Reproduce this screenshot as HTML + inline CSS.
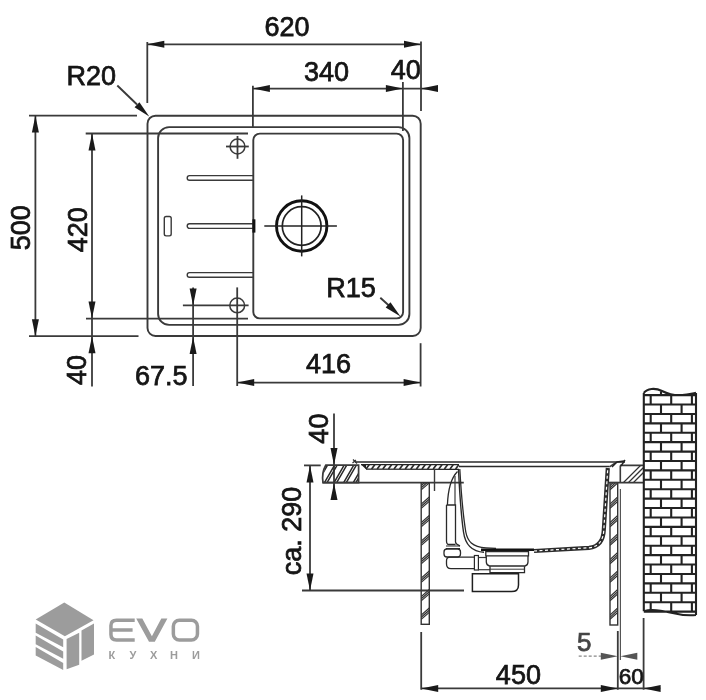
<!DOCTYPE html>
<html><head><meta charset="utf-8"><style>
html,body{margin:0;padding:0;background:#fff;}
body{width:706px;height:700px;overflow:hidden;}
svg{display:block;will-change:transform;}
text{font-family:"Liberation Sans",sans-serif;}
</style></head><body>
<svg width="706" height="700" viewBox="0 0 706 700">
<rect width="706" height="700" fill="#fff"/>
<rect x="147.5" y="115.7" width="273.2" height="220.3" rx="8" fill="none" stroke="#3a3a3a" stroke-width="1.9"/>
<rect x="158.1" y="127.1" width="251.3" height="197.8" rx="11" fill="none" stroke="#3a3a3a" stroke-width="1.9"/>
<rect x="253.3" y="133.6" width="149.8" height="184.8" rx="6.5" fill="none" stroke="#3a3a3a" stroke-width="1.9"/>
<line x1="147.3" y1="42" x2="147.3" y2="103" stroke="#3a3a3a" stroke-width="1.8" />
<line x1="421" y1="41.4" x2="421" y2="111" stroke="#3a3a3a" stroke-width="1.8" />
<line x1="147.3" y1="44.3" x2="421" y2="44.3" stroke="#3a3a3a" stroke-width="1.8" />
<polygon points="147.30,44.30 164.30,40.80 164.30,47.80" fill="#1a1a1a"/>
<polygon points="421.00,44.30 404.00,47.80 404.00,40.80" fill="#1a1a1a"/>
<text x="287" y="35.7" font-size="27" text-anchor="middle" fill="#151515" stroke="#151515" stroke-width="0.75" >620</text>
<line x1="252.9" y1="85.7" x2="252.9" y2="128" stroke="#3a3a3a" stroke-width="1.8" />
<line x1="402.9" y1="82" x2="402.9" y2="131" stroke="#3a3a3a" stroke-width="1.8" />
<line x1="252.9" y1="88.6" x2="437" y2="88.6" stroke="#3a3a3a" stroke-width="1.8" />
<polygon points="252.90,88.60 269.90,85.10 269.90,92.10" fill="#1a1a1a"/>
<polygon points="402.90,88.60 385.90,92.10 385.90,85.10" fill="#1a1a1a"/>
<polygon points="421.00,88.60 438.00,85.10 438.00,92.10" fill="#1a1a1a"/>
<text x="326.5" y="80.7" font-size="27" text-anchor="middle" fill="#151515" stroke="#151515" stroke-width="0.75" >340</text>
<text x="405.7" y="78.9" font-size="27" text-anchor="middle" fill="#151515" stroke="#151515" stroke-width="0.75" >40</text>
<line x1="117.3" y1="85.5" x2="137" y2="104.5" stroke="#3a3a3a" stroke-width="1.9" />
<polygon points="149.20,116.50 134.54,107.21 139.40,102.18" fill="#1a1a1a"/>
<text x="91.3" y="84.6" font-size="27" text-anchor="middle" fill="#151515" stroke="#151515" stroke-width="0.75" >R20</text>
<line x1="29" y1="115.6" x2="137" y2="115.6" stroke="#3a3a3a" stroke-width="1.8" />
<line x1="29" y1="336.2" x2="138.5" y2="336.2" stroke="#3a3a3a" stroke-width="1.8" />
<line x1="35.4" y1="115.6" x2="35.4" y2="336.2" stroke="#3a3a3a" stroke-width="1.8" />
<polygon points="35.40,115.60 38.90,132.60 31.90,132.60" fill="#1a1a1a"/>
<polygon points="35.40,336.20 31.90,319.20 38.90,319.20" fill="#1a1a1a"/>
<text x="30" y="227.7" font-size="27" text-anchor="middle" fill="#151515" stroke="#151515" stroke-width="0.75" transform="rotate(-90 30 227.7)" >500</text>
<line x1="85.7" y1="133.5" x2="248" y2="133.5" stroke="#3a3a3a" stroke-width="1.8" />
<line x1="86" y1="318.6" x2="248" y2="318.6" stroke="#3a3a3a" stroke-width="1.8" />
<line x1="92" y1="133.5" x2="92" y2="386.6" stroke="#3a3a3a" stroke-width="1.8" />
<polygon points="92.00,133.50 95.50,150.50 88.50,150.50" fill="#1a1a1a"/>
<polygon points="92.00,318.60 88.50,301.60 95.50,301.60" fill="#1a1a1a"/>
<polygon points="92.00,336.30 95.50,353.30 88.50,353.30" fill="#1a1a1a"/>
<text x="86.8" y="229.8" font-size="27" text-anchor="middle" fill="#151515" stroke="#151515" stroke-width="0.75" transform="rotate(-90 86.8 229.8)" >420</text>
<text x="86.3" y="369.9" font-size="27" text-anchor="middle" fill="#151515" stroke="#151515" stroke-width="0.75" transform="rotate(-90 86.3 369.9)" >40</text>
<circle cx="237.5" cy="146.5" r="7.4" fill="none" stroke="#3a3a3a" stroke-width="1.5"/>
<line x1="226" y1="146.5" x2="248.8" y2="146.5" stroke="#3a3a3a" stroke-width="1.8" />
<line x1="237.5" y1="136" x2="237.5" y2="158.8" stroke="#3a3a3a" stroke-width="1.8" />
<circle cx="237.2" cy="305.4" r="7.4" fill="none" stroke="#3a3a3a" stroke-width="1.5"/>
<line x1="182.9" y1="305.4" x2="248.6" y2="305.4" stroke="#3a3a3a" stroke-width="1.8" />
<line x1="193.1" y1="287.4" x2="193.1" y2="386" stroke="#3a3a3a" stroke-width="1.8" />
<polygon points="193.10,305.40 189.60,288.40 196.60,288.40" fill="#1a1a1a"/>
<polygon points="193.10,337.00 196.60,354.00 189.60,354.00" fill="#1a1a1a"/>
<text x="161.2" y="385.4" font-size="27" text-anchor="middle" fill="#151515" stroke="#151515" stroke-width="0.75" >67.5</text>
<line x1="237.2" y1="287.4" x2="237.2" y2="386" stroke="#3a3a3a" stroke-width="1.8" />
<line x1="420.6" y1="343.2" x2="420.6" y2="386.5" stroke="#3a3a3a" stroke-width="1.8" />
<line x1="237.2" y1="382.6" x2="420.6" y2="382.6" stroke="#3a3a3a" stroke-width="1.8" />
<polygon points="237.20,382.60 254.20,379.10 254.20,386.10" fill="#1a1a1a"/>
<polygon points="420.60,382.60 403.60,386.10 403.60,379.10" fill="#1a1a1a"/>
<text x="328.6" y="373.2" font-size="27" text-anchor="middle" fill="#151515" stroke="#151515" stroke-width="0.75" >416</text>
<line x1="380.3" y1="297.7" x2="390" y2="306.5" stroke="#3a3a3a" stroke-width="1.9" />
<polygon points="400.50,316.40 385.67,307.39 390.43,302.26" fill="#1a1a1a"/>
<text x="351" y="297.4" font-size="27" text-anchor="middle" fill="#151515" stroke="#151515" stroke-width="0.75" >R15</text>
<circle cx="301.7" cy="226" r="25.2" fill="none" stroke="#111" stroke-width="2.9"/>
<circle cx="301.7" cy="226" r="19.4" fill="none" stroke="#222" stroke-width="1.7"/>
<line x1="264.3" y1="226" x2="336.9" y2="226" stroke="#222" stroke-width="1.5" />
<line x1="301.7" y1="195.4" x2="301.7" y2="256.4" stroke="#222" stroke-width="1.5" />
<path d="M253.3 175.6 H189.5 A2.3 2.3 0 0 0 189.5 180.2 H253.3" fill="none" stroke="#3a3a3a" stroke-width="1.4"/>
<path d="M253.3 223.8 H189.5 A2.3 2.3 0 0 0 189.5 228.4 H253.3" fill="none" stroke="#3a3a3a" stroke-width="1.4"/>
<path d="M253.3 272.6 H189.5 A2.3 2.3 0 0 0 189.5 277.2 H253.3" fill="none" stroke="#3a3a3a" stroke-width="1.4"/>
<rect x="164.3" y="216.5" width="6.9" height="19.4" rx="1.8" fill="none" stroke="#3a3a3a" stroke-width="1.4"/>
<rect x="252.4" y="219.3" width="3" height="13.3" fill="#111"/>
<line x1="334" y1="413.6" x2="334" y2="498.6" stroke="#3a3a3a" stroke-width="1.8" />
<polygon points="334.00,465.00 330.50,448.00 337.50,448.00" fill="#1a1a1a"/>
<polygon points="334.00,483.00 337.50,500.00 330.50,500.00" fill="#1a1a1a"/>
<text x="327.9" y="428.6" font-size="27" text-anchor="middle" fill="#151515" stroke="#151515" stroke-width="0.75" transform="rotate(-90 327.9 428.6)" >40</text>
<line x1="304" y1="465.4" x2="320.7" y2="465.4" stroke="#3a3a3a" stroke-width="1.8" />
<line x1="302" y1="590.5" x2="464" y2="590.5" stroke="#3a3a3a" stroke-width="1.8" />
<line x1="310" y1="465.4" x2="310" y2="590.5" stroke="#3a3a3a" stroke-width="1.8" />
<polygon points="310.00,465.40 313.50,482.40 306.50,482.40" fill="#1a1a1a"/>
<polygon points="310.00,590.50 306.50,573.50 313.50,573.50" fill="#1a1a1a"/>
<text x="301.4" y="531" font-size="27" text-anchor="middle" fill="#151515" stroke="#151515" stroke-width="0.75" transform="rotate(-90 301.4 531)" >ca. 290</text>
<clipPath id="cl1"><polygon points="325,465 358.6,465 358.6,483 322.6,483"/></clipPath>
<path d="M314.3 483.6 L325.5 464.2 M316.9 483.6 L328.1 464.2 M323.9 483.6 L335.1 464.2 M326.5 483.6 L337.7 464.2 M333.5 483.6 L344.7 464.2 M336.1 483.6 L347.3 464.2 M343.1 483.6 L354.3 464.2 M345.7 483.6 L356.9 464.2 M352.7 483.6 L363.9 464.2 M355.3 483.6 L366.5 464.2 M362.3 483.6 L373.5 464.2 M364.9 483.6 L376.1 464.2" stroke="#2a2a2a" stroke-width="1.5" clip-path="url(#cl1)"/>
<path d="M325.8 465.2 L358.6 465.2 L358.6 482.6 L323 482.6 C322 476 323.5 469 325.8 465.2 Z" fill="none" stroke="#3a3a3a" stroke-width="1.7"/>
<line x1="322.6" y1="482.7" x2="463.8" y2="482.7" stroke="#3a3a3a" stroke-width="1.8" />
<line x1="355" y1="462" x2="625" y2="462" stroke="#2a2a2a" stroke-width="1.7" />
<path d="M353 459.5 L357 463.5 M352.5 463 L356 460" stroke="#333" stroke-width="1.2"/>
<path d="M361 464.6 L459 464.6 M366 469.2 L459 469.4" stroke="#222" stroke-width="1.3"/>
<polygon points="361,464.6 366,469.2 366,464.6" fill="#222"/>
<path d="M366.0 469 L369.2 464.8 M371.6 469 L374.8 464.8 M377.2 469 L380.4 464.8 M382.8 469 L386.0 464.8 M388.4 469 L391.6 464.8 M394.0 469 L397.2 464.8 M399.6 469 L402.8 464.8 M405.2 469 L408.4 464.8 M410.8 469 L414.0 464.8 M416.4 469 L419.6 464.8 M422.0 469 L425.2 464.8 M427.6 469 L430.8 464.8 M433.2 469 L436.4 464.8 M438.8 469 L442.0 464.8 M444.4 469 L447.6 464.8 M450.0 469 L453.2 464.8 M455.6 469 L458.8 464.8" stroke="#2a2a2a" stroke-width="1.7"/>
<line x1="459" y1="466.5" x2="609.5" y2="466.5" stroke="#2a2a2a" stroke-width="1.7" />
<line x1="609.5" y1="466.8" x2="616" y2="462.5" stroke="#3a3a3a" stroke-width="1.5" />
<path d="M458.5 470 C459.5 490 461 515 463.5 532 C465 543 470 551.5 484 552.3" fill="none" stroke="#2a2a2a" stroke-width="1.4"/>
<path d="M459.8 469 C461 490 463 515 465.8 532 C467.5 541 472 546.8 486 547.8 L496 548.3" fill="none" stroke="#2a2a2a" stroke-width="1.3"/>
<path d="M481 549.8 L534 549.8" stroke="#111" stroke-width="2.4"/>
<path d="M534 551 L589 547.8 C598 547 603.3 541 603.8 530 L607.8 468" fill="none" stroke="#2c2c2c" stroke-width="4.2"/>
<path d="M534 551 L589 547.8 C598 547 603.3 541 603.8 530 L607.8 468" fill="none" stroke="#fff" stroke-width="1.2" stroke-dasharray="3 2.5"/>
<path d="M457.5 471.5 C451 478 448 490 447.4 505" fill="none" stroke="#2a2a2a" stroke-width="1.3"/>
<line x1="455" y1="476" x2="455" y2="505" stroke="#3a3a3a" stroke-width="1.2" />
<path d="M446.5 505 L455.5 505 L455.5 542 C455.5 544 458 545 460 546 M446.5 505 L446.5 541 Q446.5 544.5 449 544.5 L455.5 544.5" fill="none" stroke="#2a2a2a" stroke-width="1.3"/>
<path d="M446 546 L460 546 M446 548.5 L460 548.5" stroke="#2a2a2a" stroke-width="1.1"/>
<rect x="444" y="549" width="16.5" height="8" rx="3" fill="none" stroke="#2a2a2a" stroke-width="1.3"/>
<path d="M474.5 557.2 L450 557.2 Q446.5 557.2 446.5 561 L446.5 564 Q446.5 568.6 451 568.6 L474.5 568.6" fill="none" stroke="#2a2a2a" stroke-width="1.3"/>
<rect x="474.4" y="555.5" width="4" height="14.5" fill="none" stroke="#2a2a2a" stroke-width="1.2"/>
<line x1="478.4" y1="569.7" x2="490" y2="569.7" stroke="#3a3a3a" stroke-width="1.2" />
<line x1="478.4" y1="557.5" x2="486" y2="557.5" stroke="#3a3a3a" stroke-width="1.2" />
<path d="M485.8 551.5 L528.5 551.5 L528.5 555.8 L485.8 555.8 Z" fill="none" stroke="#2a2a2a" stroke-width="1.3"/>
<path d="M486.3 556 L486.3 562 Q486.5 565.5 489.5 566 L525 566 Q527.8 565.5 528 562 L528 556" fill="none" stroke="#2a2a2a" stroke-width="1.3"/>
<path d="M490 566.3 L490 572.7 L524.5 572.7 L524.5 566.3" fill="none" stroke="#2a2a2a" stroke-width="1.3"/>
<line x1="490" y1="569.2" x2="524.5" y2="569.2" stroke="#3a3a3a" stroke-width="1.0" />
<path d="M472.4 573.7 L518.5 573.7 L518.5 585 Q518.5 591.6 511.5 591.6 L472.4 591.6 Z" fill="none" stroke="#1f1f1f" stroke-width="1.5"/>
<line x1="434.5" y1="469" x2="434.5" y2="491" stroke="#3a3a3a" stroke-width="1.4" />
<rect x="421.2" y="482.7" width="8.1" height="141.6" fill="none" stroke="#333" stroke-width="1.4"/>
<clipPath id="cw1"><rect x="421.2" y="482.7" width="8.1" height="141.6"/></clipPath><path d="M421.2 485.5 L429.3 478.5 M421.2 487.7 L429.3 480.7 M421.2 489.9 L429.3 482.9 M421.2 504.0 L429.3 497.0 M421.2 506.2 L429.3 499.2 M421.2 508.4 L429.3 501.4 M421.2 522.5 L429.3 515.5 M421.2 524.7 L429.3 517.7 M421.2 526.9 L429.3 519.9 M421.2 541.0 L429.3 534.0 M421.2 543.2 L429.3 536.2 M421.2 545.4 L429.3 538.4 M421.2 559.5 L429.3 552.5 M421.2 561.7 L429.3 554.7 M421.2 563.9 L429.3 556.9 M421.2 578.0 L429.3 571.0 M421.2 580.2 L429.3 573.2 M421.2 582.4 L429.3 575.4 M421.2 596.5 L429.3 589.5 M421.2 598.7 L429.3 591.7 M421.2 600.9 L429.3 593.9 M421.2 615.0 L429.3 608.0 M421.2 617.2 L429.3 610.2 M421.2 619.4 L429.3 612.4" stroke="#333" stroke-width="1.2" clip-path="url(#cw1)"/>
<rect x="610" y="482.6" width="7.7" height="142.4" fill="none" stroke="#333" stroke-width="1.4"/>
<clipPath id="cw2"><rect x="610" y="482.6" width="7.7" height="142.4"/></clipPath><path d="M610 485.5 L617.7 478.5 M610 487.7 L617.7 480.7 M610 489.9 L617.7 482.9 M610 504.0 L617.7 497.0 M610 506.2 L617.7 499.2 M610 508.4 L617.7 501.4 M610 522.5 L617.7 515.5 M610 524.7 L617.7 517.7 M610 526.9 L617.7 519.9 M610 541.0 L617.7 534.0 M610 543.2 L617.7 536.2 M610 545.4 L617.7 538.4 M610 559.5 L617.7 552.5 M610 561.7 L617.7 554.7 M610 563.9 L617.7 556.9 M610 578.0 L617.7 571.0 M610 580.2 L617.7 573.2 M610 582.4 L617.7 575.4 M610 596.5 L617.7 589.5 M610 598.7 L617.7 591.7 M610 600.9 L617.7 593.9 M610 615.0 L617.7 608.0 M610 617.2 L617.7 610.2 M610 619.4 L617.7 612.4" stroke="#333" stroke-width="1.2" clip-path="url(#cw2)"/>
<line x1="620.4" y1="489" x2="620.4" y2="660" stroke="#555" stroke-width="1.2" />
<path d="M609 482.6 L643.8 482.6 M620 465.4 L643.8 465.4 M620.3 465.4 L620.3 482.6" stroke="#3a3a3a" stroke-width="1.6"/>
<clipPath id="cl2"><rect x="620.3" y="465.4" width="23.5" height="17.2"/></clipPath>
<path d="M622 484 L642 464 M627 484 L647 464 M632 484 L652 464" stroke="#333" stroke-width="1.3" clip-path="url(#cl2)"/>
<path d="M612 467 L617 462 L624 461 M621 466 L625 460" stroke="#222" stroke-width="1.4" fill="none"/>
<path d="M643.8 392.9 C 647 388.5, 655 387.5, 662 391 C 667 393.5, 672 395.5, 680 395.3 C 688 395, 693 393.5, 696 392.9 M643.8 392.9 L643.8 611.3 M696 392.9 L696 615 M643.8 395.10 L696 395.10 M643.8 404.51 L696 404.51 M643.8 413.93 L696 413.93 M643.8 423.34 L696 423.34 M643.8 432.75 L696 432.75 M643.8 442.17 L696 442.17 M643.8 451.58 L696 451.58 M643.8 460.99 L696 460.99 M643.8 470.40 L696 470.40 M643.8 479.82 L696 479.82 M643.8 489.23 L696 489.23 M643.8 498.64 L696 498.64 M643.8 508.06 L696 508.06 M643.8 517.47 L696 517.47 M643.8 526.88 L696 526.88 M643.8 536.30 L696 536.30 M643.8 545.71 L696 545.71 M643.8 555.12 L696 555.12 M643.8 564.53 L696 564.53 M643.8 573.95 L696 573.95 M643.8 583.36 L696 583.36 M643.8 592.77 L696 592.77 M643.8 602.19 L696 602.19 M643.8 611.60 L696 611.60 M650.7 395.10 L650.7 404.51 M671.2 395.10 L671.2 404.51 M691.9 395.10 L691.9 404.51 M661 404.51 L661 413.93 M681.6 404.51 L681.6 413.93 M650.7 413.93 L650.7 423.34 M671.2 413.93 L671.2 423.34 M691.9 413.93 L691.9 423.34 M661 423.34 L661 432.75 M681.6 423.34 L681.6 432.75 M650.7 432.75 L650.7 442.17 M671.2 432.75 L671.2 442.17 M691.9 432.75 L691.9 442.17 M661 442.17 L661 451.58 M681.6 442.17 L681.6 451.58 M650.7 451.58 L650.7 460.99 M671.2 451.58 L671.2 460.99 M691.9 451.58 L691.9 460.99 M661 460.99 L661 470.40 M681.6 460.99 L681.6 470.40 M650.7 470.40 L650.7 479.82 M671.2 470.40 L671.2 479.82 M691.9 470.40 L691.9 479.82 M661 479.82 L661 489.23 M681.6 479.82 L681.6 489.23 M650.7 489.23 L650.7 498.64 M671.2 489.23 L671.2 498.64 M691.9 489.23 L691.9 498.64 M661 498.64 L661 508.06 M681.6 498.64 L681.6 508.06 M650.7 508.06 L650.7 517.47 M671.2 508.06 L671.2 517.47 M691.9 508.06 L691.9 517.47 M661 517.47 L661 526.88 M681.6 517.47 L681.6 526.88 M650.7 526.88 L650.7 536.30 M671.2 526.88 L671.2 536.30 M691.9 526.88 L691.9 536.30 M661 536.30 L661 545.71 M681.6 536.30 L681.6 545.71 M650.7 545.71 L650.7 555.12 M671.2 545.71 L671.2 555.12 M691.9 545.71 L691.9 555.12 M661 555.12 L661 564.53 M681.6 555.12 L681.6 564.53 M650.7 564.53 L650.7 573.95 M671.2 564.53 L671.2 573.95 M691.9 564.53 L691.9 573.95 M661 573.95 L661 583.36 M681.6 573.95 L681.6 583.36 M650.7 583.36 L650.7 592.77 M671.2 583.36 L671.2 592.77 M691.9 583.36 L691.9 592.77 M661 592.77 L661 602.19 M681.6 592.77 L681.6 602.19 M650.7 602.19 L650.7 611.60 M671.2 602.19 L671.2 611.60 M691.9 602.19 L691.9 611.60 M661 390 L661 395 M643.8 611.3 C 650 609, 660 610, 670 612.5 C 680 615, 690 615.5, 696 615" fill="none" stroke="#222" stroke-width="2.1"/>
<line x1="421.2" y1="632" x2="421.2" y2="689.7" stroke="#3a3a3a" stroke-width="1.8" />
<line x1="617.8" y1="631" x2="617.8" y2="689.7" stroke="#3a3a3a" stroke-width="1.8" />
<line x1="643.6" y1="618" x2="643.6" y2="689.7" stroke="#3a3a3a" stroke-width="1.8" />
<line x1="421.2" y1="688.4" x2="660.3" y2="688.4" stroke="#3a3a3a" stroke-width="1.8" />
<polygon points="421.20,688.40 438.20,684.90 438.20,691.90" fill="#1a1a1a"/>
<polygon points="617.80,688.40 600.80,691.90 600.80,684.90" fill="#1a1a1a"/>
<polygon points="643.60,688.40 660.60,684.90 660.60,691.90" fill="#1a1a1a"/>
<text x="518.4" y="683.5" font-size="27" text-anchor="middle" fill="#151515" stroke="#151515" stroke-width="0.75" >450</text>
<text x="631.2" y="683.5" font-size="22.5" text-anchor="middle" fill="#151515" stroke="#151515" stroke-width="0.75" >60</text>
<line x1="578.7" y1="656.2" x2="602" y2="656.2" stroke="#888" stroke-width="1.3" stroke-dasharray="3 2"/>
<polygon points="617.80,656.20 600.80,659.70 600.80,652.70" fill="#555"/>
<polygon points="620.30,656.20 637.30,652.70 637.30,659.70" fill="#555"/>
<text x="584.2" y="651" font-size="26" text-anchor="middle" fill="#444" stroke="#444" stroke-width="0.75" >5</text>
<g fill="#9c9c9c">
<polygon points="64.3,602.4 35.7,619.6 64.9,636.2 93.5,620.2"/>
<polygon points="35.7,623.6 63.2,639.6 63.2,647.2 35.7,632.7"/>
<polygon points="35.7,635.6 63.2,651.6 63.2,658.7 35.7,644.2"/>
<polygon points="35.7,647 63.2,663 63.2,670.1 35.7,655.6"/>
<polygon points="66.6,639 79.2,632.7 79.2,664.8 66.6,669.3"/>
<polygon points="81.5,630.5 94,623.6 94,654.5 81.5,660.8"/>
</g>
<g fill="none" stroke="#9c9c9c" stroke-width="3.5">
<path d="M134.7 620.15 H116.5 Q110.95 620.15 110.95 625.5 V634.5 Q110.95 639.95 116.5 639.95 H134.7 M111 630 H132.6"/>
<polygon fill="#9c9c9c" stroke="none" points="136.2,618.4 142.3,618.4 151.9,636.3 161.3,618.4 167.4,618.4 154.8,641.7 149,641.7"/>
<rect x="173.35" y="620.15" width="24.099999999999994" height="19.800000000000068" rx="6"/>
</g>
<text x="108.6" y="659.1" font-size="11" font-weight="bold" fill="#9c9c9c">К</text>
<text x="129.6" y="659.1" font-size="11" font-weight="bold" fill="#9c9c9c">У</text>
<text x="149.9" y="659.1" font-size="11" font-weight="bold" fill="#9c9c9c">Х</text>
<text x="170" y="659.1" font-size="11" font-weight="bold" fill="#9c9c9c">Н</text>
<text x="192" y="659.1" font-size="11" font-weight="bold" fill="#9c9c9c">И</text>
</svg>
</body></html>
